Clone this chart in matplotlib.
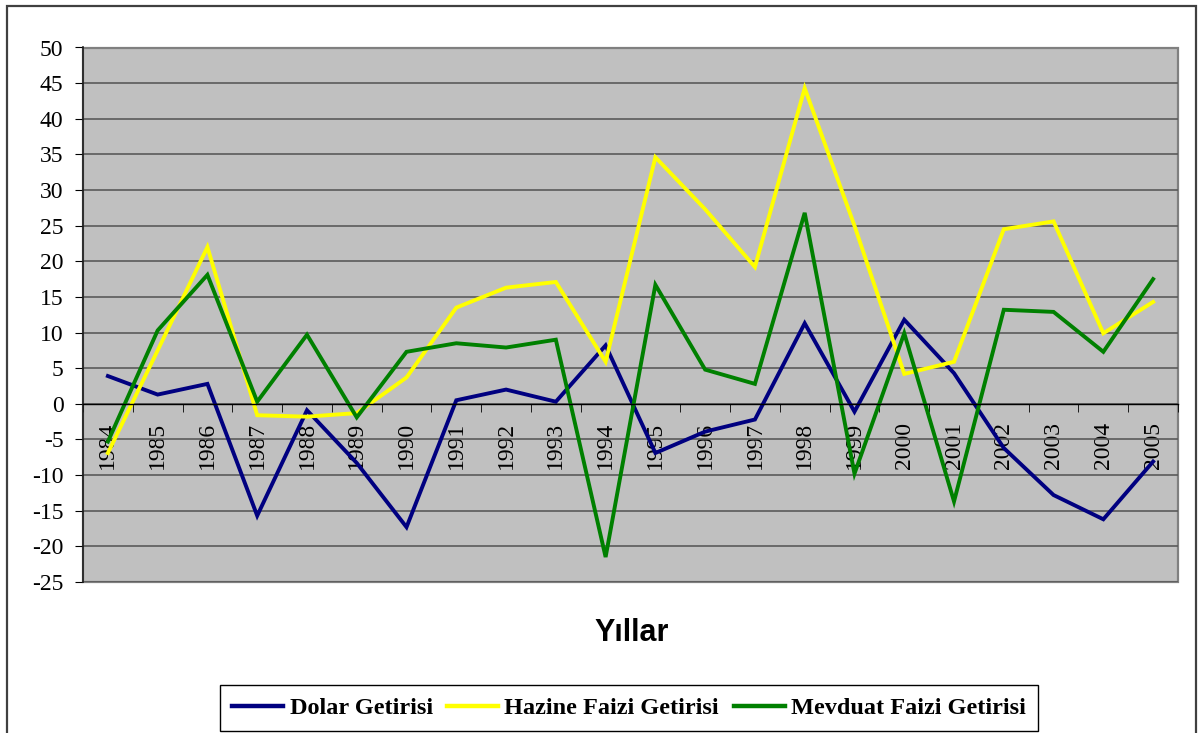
from matplotlib import pyplot as plt
from matplotlib.patches import Rectangle
import numpy as np

years = [str(y) for y in range(1984, 2006)]
dolar = [3.9, 1.3, 2.8, -15.7, -0.9, -8.3, -17.3, 0.5, 2.0, 0.3, 8.2,
         -6.9, -3.9, -2.2, 11.3, -1.1, 11.8, 4.3, -6.2, -12.8, -16.2, -8.1]
hazine = [-6.9, 7.5, 22.0, -1.6, -1.8, -1.3, 3.7, 13.5, 16.3, 17.1, 5.9,
          34.6, 27.3, 19.2, 44.3, 25.0, 4.2, 5.9, 24.5, 25.6, 9.9, 14.3]
mevduat = [-5.3, 10.3, 18.1, 0.3, 9.7, -1.9, 7.3, 8.5, 7.9, 9.0, -21.5,
           16.7, 4.8, 2.8, 26.8, -9.8, 9.9, -13.7, 13.2, 12.9, 7.3, 17.5]
labels = ['Dolar Getirisi', 'Hazine Faizi Getirisi', 'Mevduat Faizi Getirisi']
colors = ['#000080', '#FFFF00', '#008000']

W, H = 1198, 733
fig = plt.figure(figsize=(W / 100, H / 100), dpi=100)

# outer chart frame
fig.patches.append(Rectangle((7 / W, -0.01), (1196 - 7) / W, 1.01 - 6 / H,
                             transform=fig.transFigure, fill=False,
                             edgecolor='#404040', linewidth=1.6))

ax = fig.add_axes([83 / W, 1 - 582 / H, (1178 - 83) / W, (582 - 47.5) / H])
ax.set_facecolor('#C0C0C0')

x = np.arange(len(years))
for vals, lab, c in zip([dolar, hazine, mevduat], labels, colors):
    ax.plot(x, vals, color=c, linewidth=2.8, label=lab, solid_joinstyle='miter')

ax.set_xlim(-0.5, len(years) - 0.5)
ax.set_ylim(-25, 50)
ax.set_yticks(np.arange(-25, 51, 5))
ax.yaxis.grid(True, color='#5a5a5a', linewidth=1.2)
ax.set_axisbelow(True)

# category axis crossing at zero
ax.spines['bottom'].set_position(('data', 0))
ax.spines['bottom'].set_color('black')
ax.spines['bottom'].set_linewidth(1.0)
ax.spines['top'].set_visible(False)
ax.spines['right'].set_visible(False)
ax.spines['left'].set_color('#202020')
ax.spines['left'].set_linewidth(1.2)
ax.add_patch(Rectangle((0, 0), 1, 1, transform=ax.transAxes, fill=False,
                       edgecolor='#808080', linewidth=1.6, zorder=0.5, clip_on=False))

ax.set_xticks(x)
ax.set_xticklabels(years, rotation=90, fontfamily='Liberation Serif', fontsize=17)
ax.tick_params(axis='x', which='major', length=0, pad=13)
ax.set_xticks(np.arange(-0.5, len(years), 1), minor=True)
ax.tick_params(axis='x', which='minor', length=6, direction='out', color='black')
ax.set_yticklabels([str(v) for v in range(-25, 51, 5)],
                   fontfamily='Liberation Serif', fontsize=17)
ax.tick_params(axis='y', length=6, direction='out', color='black', pad=8)

fig.text(632 / W, 1 - 633 / H, 'Yıllar', ha='center', va='center',
         fontfamily='Liberation Sans', fontweight='bold', fontsize=22)

leg = fig.legend(loc='center', bbox_to_anchor=(629 / W, 1 - 708 / H), ncol=3,
                 prop={'family': 'Liberation Serif', 'weight': 'bold', 'size': 17.5},
                 frameon=True, fancybox=False, edgecolor='black', framealpha=1,
                 handlelength=2.1, handletextpad=0.25, columnspacing=0.6,
                 borderpad=0.5, borderaxespad=0)
leg.get_frame().set_linewidth(1.0)
for line in leg.get_lines():
    line.set_linewidth(3.2)

fig.savefig('out.png', dpi=100)
